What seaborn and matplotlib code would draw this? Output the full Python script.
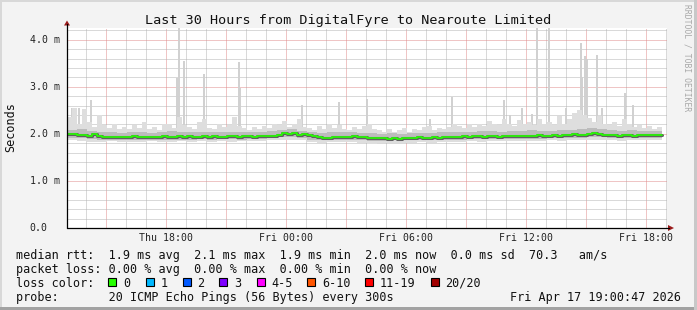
import numpy as np
import pandas as pd
import matplotlib
matplotlib.use("Agg")
import matplotlib.pyplot as plt
import seaborn as sns
from matplotlib.patches import Rectangle, Polygon
from matplotlib.lines import Line2D
from matplotlib.transforms import blended_transform_factory

# ---------------- data ----------------
title = "Last 30 Hours from DigitalFyre to Nearoute Limited"
y_label = "Seconds"
x_tick_hours = [4.95, 10.95, 16.95, 22.95, 28.95]
x_tick_labels = ["Thu 18:00", "Fri 00:00", "Fri 06:00", "Fri 12:00", "Fri 18:00"]
y_tick_values = [0.0, 1.0, 2.0, 3.0, 4.0]
y_tick_labels = ["0.0", "1.0 m", "2.0 m", "3.0 m", "4.0 m"]

# median rtt (ms), one value per 15 minutes
median = [2.00, 1.99, 1.98, 1.97, 1.96, 1.99, 1.95, 1.94, 1.93, 1.94, 1.93, 1.94,
          1.93, 1.95, 1.94, 1.93, 1.94, 1.93, 1.94, 1.95, 1.94, 1.93, 1.95, 1.94,
          1.95, 1.94, 1.94, 1.95, 1.94, 1.95, 1.93, 1.94, 1.95, 1.96, 1.94, 1.95,
          1.95, 1.94, 1.96, 1.95, 1.96, 1.95, 1.97, 2.01, 1.99, 2.02, 1.98, 2.00,
          1.97, 1.96, 1.93, 1.92, 1.91, 1.93, 1.94, 1.93, 1.94, 1.95, 1.94, 1.93,
          1.92, 1.91, 1.92, 1.91, 1.90, 1.91, 1.90, 1.92, 1.92, 1.91, 1.93, 1.92,
          1.92, 1.93, 1.92, 1.93, 1.94, 1.93, 1.94, 1.95, 1.94, 1.95, 1.95, 1.94,
          1.95, 1.96, 1.94, 1.95, 1.96, 1.95, 1.96, 1.95, 1.95, 1.96, 1.97, 1.96,
          1.96, 1.97, 1.96, 1.97, 1.98, 1.99, 1.97, 1.98, 1.99, 2.01, 2.00, 1.98,
          1.98, 1.97, 1.96, 1.98, 1.97, 1.96, 1.97, 1.98, 1.97, 1.98, 1.97, 1.98]

# light smoke upper envelope (ms), one value per 15 minutes
outer_hi = [2.35, 2.55, 2.20, 2.52, 2.25, 2.15, 2.40, 2.18, 2.12, 2.22, 2.10, 2.14,
            2.10, 2.18, 2.12, 2.25, 2.10, 2.15, 2.08, 2.20, 2.22, 2.12, 2.35, 2.18,
            2.15, 2.10, 2.25, 2.32, 2.12, 2.10, 2.20, 2.14, 2.18, 2.35, 2.16, 2.12,
            2.08, 2.14, 2.10, 2.16, 2.12, 2.22, 2.18, 2.28, 2.15, 2.20, 2.32, 2.14,
            2.12, 2.08, 2.16, 2.10, 2.22, 2.12, 2.18, 2.10, 2.08, 2.14, 2.10, 2.16,
            2.22, 2.10, 2.08, 2.05, 2.10, 2.04, 2.08, 2.12, 2.05, 2.10, 2.08, 2.14,
            2.16, 2.08, 2.12, 2.10, 2.14, 2.22, 2.16, 2.12, 2.20, 2.14, 2.22, 2.16,
            2.28, 2.20, 2.18, 2.32, 2.22, 2.16, 2.30, 2.20, 2.26, 2.18, 2.32, 2.20,
            2.26, 2.18, 2.38, 2.22, 2.32, 2.45, 2.50, 2.40, 2.34, 2.26, 2.38, 2.20,
            2.18, 2.26, 2.16, 2.32, 2.20, 2.14, 2.18, 2.12, 2.16, 2.10, 2.14, 2.08]

# smoke bands, one value per 30 minutes
mid_hi = [2.08, 2.10, 2.06, 2.04, 2.03, 2.02, 2.04, 2.03, 2.02, 2.05, 2.06, 2.04,
          2.03, 2.05, 2.04, 2.03, 2.05, 2.04, 2.05, 2.04, 2.06, 2.08, 2.10, 2.06,
          2.03, 2.02, 2.03, 2.04, 2.03, 2.02, 2.01, 2.00, 2.01, 2.00, 2.02, 2.01,
          2.02, 2.03, 2.04, 2.05, 2.04, 2.06, 2.07, 2.05, 2.06, 2.07, 2.08, 2.06,
          2.07, 2.08, 2.09, 2.11, 2.12, 2.10, 2.08, 2.07, 2.08, 2.06, 2.07, 2.06]
mid_lo = [1.92, 1.91, 1.89, 1.88, 1.88, 1.87, 1.88, 1.87, 1.88, 1.88, 1.87, 1.88,
          1.88, 1.89, 1.88, 1.89, 1.89, 1.88, 1.90, 1.89, 1.92, 1.94, 1.93, 1.92,
          1.88, 1.86, 1.87, 1.88, 1.87, 1.86, 1.85, 1.85, 1.86, 1.86, 1.86, 1.87,
          1.86, 1.87, 1.88, 1.88, 1.89, 1.89, 1.89, 1.90, 1.89, 1.90, 1.90, 1.90,
          1.91, 1.91, 1.92, 1.92, 1.94, 1.93, 1.92, 1.91, 1.91, 1.92, 1.91, 1.92]
outer_lo = [1.86, 1.84, 1.83, 1.82, 1.84, 1.82, 1.83, 1.82, 1.84, 1.83, 1.82, 1.84,
            1.83, 1.84, 1.83, 1.84, 1.83, 1.84, 1.85, 1.84, 1.86, 1.88, 1.87, 1.86,
            1.82, 1.80, 1.82, 1.83, 1.82, 1.80, 1.79, 1.80, 1.81, 1.80, 1.81, 1.82,
            1.81, 1.82, 1.83, 1.82, 1.84, 1.83, 1.84, 1.85, 1.84, 1.85, 1.84, 1.85,
            1.86, 1.85, 1.87, 1.86, 1.88, 1.87, 1.86, 1.85, 1.86, 1.87, 1.86, 1.87]

# tall single-ping spikes: hour offset and top (ms)
spike_hours = [0.25, 0.60, 1.18, 5.48, 5.58, 5.85, 6.85, 8.60, 8.65, 11.75, 13.60,
               15.00, 18.15, 19.25, 21.85, 22.15, 22.75, 23.25, 23.50, 24.10, 24.95,
               25.68, 25.75, 25.90, 26.00, 26.50, 26.75, 27.90, 28.30]
spike_tops = [2.54, 2.54, 2.71, 3.19, 4.50, 3.54, 3.28, 3.52, 2.98, 2.62, 2.67,
              2.74, 2.31, 2.78, 2.73, 2.41, 2.56, 2.43, 4.50, 4.50, 2.56,
              3.93, 3.20, 3.66, 3.60, 3.68, 2.56, 2.86, 2.62]

legend_rows = [
    "median rtt:  1.9 ms avg  2.1 ms max  1.9 ms min  2.0 ms now  0.0 ms sd  70.3   am/s",
    "packet loss: 0.00 % avg  0.00 % max  0.00 % min  0.00 % now",
    "loss color:",
    "probe:       20 ICMP Echo Pings (56 Bytes) every 300s",
]
loss_labels = ["0", "1", "2", "3", "4-5", "6-10", "11-19", "20/20"]
loss_colors = ["#26ff00", "#00b8ff", "#0059ff", "#7e00ff", "#ff00ff", "#ff5500", "#ff0000", "#a10000"]
timestamp = "Fri Apr 17 19:00:47 2026"
watermark = "RRDTOOL / TOBI OETIKER"

# ---------------- figure ----------------
sns.set_theme(style="white")
plt.rcParams["font.family"] = ["DejaVu Sans Mono"]

W, H = 697, 310
fig = plt.figure(figsize=(W / 100, H / 100), dpi=100, facecolor="#f3f3f3")


def fx(px):
    return px / W


def fy(py):
    return 1 - py / H


# frame border
fig.add_artist(Rectangle((0, fy(2)), 1, 2 / H, transform=fig.transFigure, color="#d8d8d8", lw=0))
fig.add_artist(Rectangle((0, 0), 2 / W, 1, transform=fig.transFigure, color="#d8d8d8", lw=0))
fig.add_artist(Rectangle((0, 0), 1, 3 / H, transform=fig.transFigure, color="#a2a2a2", lw=0))
fig.add_artist(Rectangle((fx(W - 3), 0), 3 / W, 1, transform=fig.transFigure, color="#c8c8c8", lw=0))

ax = fig.add_axes([fx(67), fy(228), fx(600), 200 / H])
ax.set_facecolor("white")
for s in ax.spines.values():
    s.set_visible(False)

hours15 = np.arange(len(median)) * 0.25
hours30 = np.append(np.arange(len(mid_hi)) * 0.5, hours15[-1])
outer_lo_15 = np.repeat(outer_lo, 2)

# smoke
ax.vlines(spike_hours, 2.0, spike_tops, color="#d0d0d0", lw=1.4, zorder=2)
ax.fill_between(hours15, outer_lo_15, outer_hi, step="post", color="#dedede", lw=0, zorder=2)
ax.fill_between(hours30, np.append(mid_lo, mid_lo[-1]), np.append(mid_hi, mid_hi[-1]),
                step="post", color="#bcbcbc", lw=0, zorder=3)

df = pd.DataFrame({"hour": hours15, "median": median})
sns.lineplot(data=df, x="hour", y="median", ax=ax, color="#606060", lw=2.2,
             drawstyle="steps-post", zorder=4, legend=False)
sns.lineplot(data=df, x="hour", y="median", ax=ax, color="#26ff00", lw=1.2,
             drawstyle="steps-post", zorder=5, legend=False)

ax.set_xlim(0, 30)
ax.set_ylim(0, 4.25)
ax.set_xlabel("")
ax.set_ylabel("")

# grid
major_x = np.arange(1.95, 30, 3.0)
minor_x = np.arange(0.95, 30, 1.0)
ax.set_xticks(major_x)
ax.set_xticks(minor_x, minor=True)
ax.set_yticks(y_tick_values)
ax.set_yticks(np.arange(0.2, 4.21, 0.2), minor=True)
ax.grid(True, which="minor", color="#b4b4b4", lw=0.72, ls=(0, (1, 1)), zorder=0)
ax.grid(True, which="major", color="#e08c8c", lw=0.72, ls=(0, (1, 1)), zorder=1)
ax.set_axisbelow(True)
ax.tick_params(which="both", length=0, labelbottom=False, labelleft=False)

# tick labels
trx = blended_transform_factory(ax.transData, fig.transFigure)
for h, lab in zip(x_tick_hours, x_tick_labels):
    ax.text(h, fy(241), lab, transform=trx, ha="center", va="baseline", fontsize=7.1, color="#222222")
try_ = blended_transform_factory(fig.transFigure, ax.transData)
for v, lab in zip(y_tick_values, y_tick_labels):
    ax.text(fx(29.5), v, lab, transform=try_, ha="left", va="center", fontsize=7.1, color="#222222")

# axes lines with arrows
fig.add_artist(Line2D([fx(67), fx(669)], [fy(228), fy(228)], transform=fig.transFigure, color="black", lw=0.9))
fig.add_artist(Line2D([fx(67), fx(67)], [fy(228), fy(24)], transform=fig.transFigure, color="black", lw=0.9))
fig.add_artist(Polygon([[fx(668), fy(225)], [fx(668), fy(231)], [fx(674), fy(228)]], closed=True,
                       transform=fig.transFigure, color="#9a1a1a", lw=0))
fig.add_artist(Polygon([[fx(64), fy(25.5)], [fx(70), fy(25.5)], [fx(67), fy(20.5)]], closed=True,
                       transform=fig.transFigure, color="#9a1a1a", lw=0))

# title, y label, watermark
fig.text(fx(348), fy(24), title, ha="center", va="baseline", fontsize=9.7, color="#111111")
fig.text(fx(11), fy(127), y_label, ha="center", va="center", rotation=90, fontsize=8.5, color="#111111")
fig.text(fx(687.5), fy(58), watermark, ha="center", va="center", rotation=270, fontsize=5.8, color="#a8a8a8")

# legend rows
baselines = [258.5, 272.6, 286.6, 300.5]
for row, b in zip(legend_rows, baselines):
    fig.text(fx(16), fy(b), row, ha="left", va="baseline", fontsize=8.5, color="#111111")
fig.text(fx(680.5), fy(300.5), timestamp, ha="right", va="baseline", fontsize=8.5, color="#111111")

box_x = [108, 146, 183, 219, 257, 307, 365, 431]
label_x = [123, 160.5, 197, 234, 271, 322, 380, 445]
for bx, lx, lab, col in zip(box_x, label_x, loss_labels, loss_colors):
    fig.add_artist(Rectangle((fx(bx), fy(286)), 8 / W, 8 / H, transform=fig.transFigure,
                             facecolor=col, edgecolor="black", lw=0.8))
    fig.text(fx(lx), fy(286.6), lab, ha="left", va="baseline", fontsize=8.5, color="#111111")

fig.savefig("out.png", dpi=100, facecolor=fig.get_facecolor())
